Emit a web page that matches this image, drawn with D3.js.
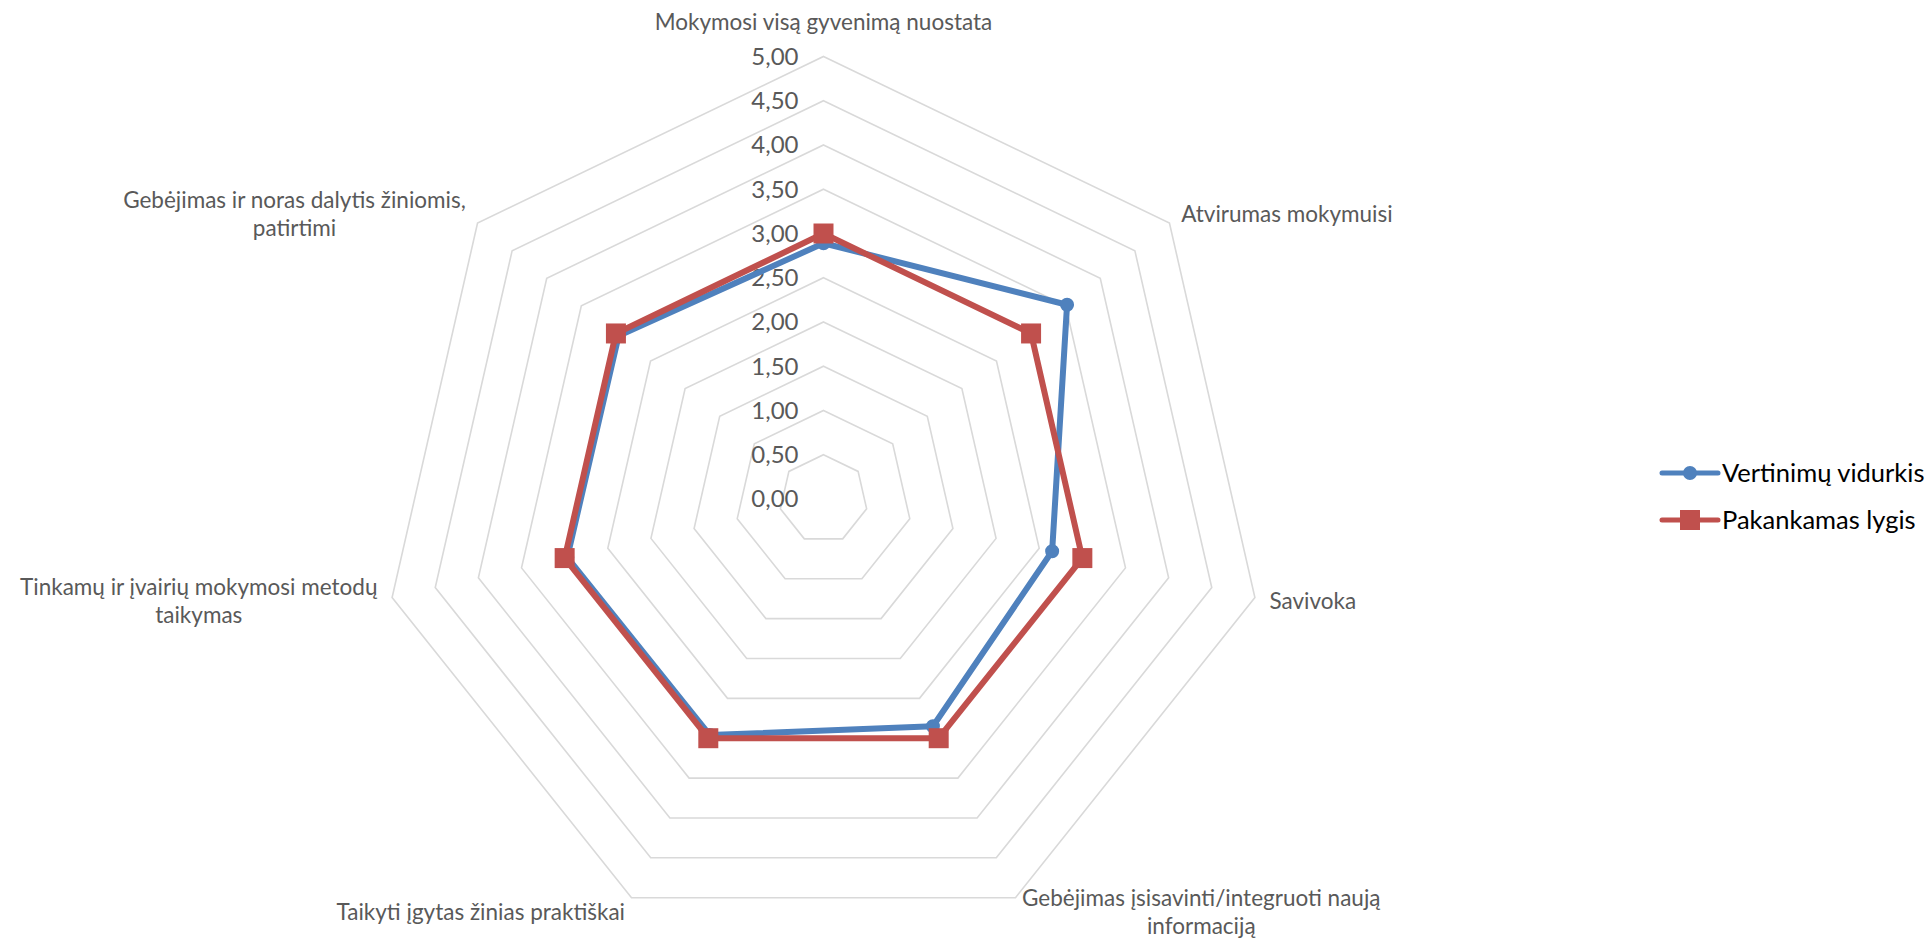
<!DOCTYPE html>
<html>
<head>
<meta charset="utf-8">
<script src="https://cdn.jsdelivr.net/npm/d3@7"></script>
<style>
  body { margin: 0; background: #fff; }
  text { font-family: Lato, "Open Sans", sans-serif; }
</style>
</head>
<body>
<div id="radar"></div>
<script>
// chart data
var categories = [
  ["Mokymosi visą gyvenimą nuostata"],
  ["Atvirumas mokymuisi"],
  ["Savivoka"],
  ["Gebėjimas įsisavinti/integruoti naują", "informaciją"],
  ["Taikyti įgytas žinias praktiškai"],
  ["Tinkamų ir įvairių mokymosi metodų", "taikymas"],
  ["Gebėjimas ir noras dalytis žiniomis,", "patirtimi"]
];
var vertinimuVidurkis = [2.89, 3.52, 2.65, 2.85, 2.96, 2.97, 2.96];
var pakankamasLygis = [3.00, 3.00, 3.00, 3.00, 3.00, 3.00, 3.00];
var tickValues = [0, 0.5, 1, 1.5, 2, 2.5, 3, 3.5, 4, 4.5, 5];
var seriesNames = ["Vertinimų vidurkis", "Pakankamas lygis"];

var W = 1931, H = 942;
var cx = 823.5, cy = 499, R = 442.5;
var svg, g, rScale;
var nAxes = categories.length;
var ltLocale = d3.formatLocale({decimal: ",", thousands: " ", grouping: [3], currency: ["", " €"]});
var fmt = ltLocale.format(".2f");

function angleOf(i) { return i * 2 * Math.PI / nAxes; }

function setup() {
    svg = d3.select("#radar").append("svg")
      .attr("width", W)
      .attr("height", H);
    g = svg.append("g").attr("transform", "translate(" + cx + "," + cy + ")");
    rScale = d3.scaleLinear().domain([0, 5]).range([0, R]);
}

// heptagon grid rings
function drawGrid() {
    var ring = d3.lineRadial()
      .angle(function(d, i) { return angleOf(i); })
      .radius(function(d) { return rScale(d); })
      .curve(d3.curveLinearClosed);
    g.append("g").selectAll("path")
      .data(tickValues.filter(function(v) { return v > 0; }))
      .enter().append("path")
        .attr("d", function(v) { return ring(d3.range(nAxes).map(function() { return v; })); })
        .style("fill", "none")
        .style("stroke", "#d9d9d9")
        .style("stroke-width", 1.6);
    // value labels on the top axis
    g.append("g").selectAll("text")
      .data(tickValues)
      .enter().append("text")
        .attr("x", -25)
        .attr("y", function(v) { return -rScale(v); })
        .attr("dy", "0.35em")
        .attr("text-anchor", "end")
        .style("font-size", "24px")
        .style("fill", "#595959")
        .text(function(v) { return fmt(v); });
}

function drawCategoryLabels() {
    var lh = 28;
    categories.forEach(function(lines, i) {
        var a = angleOf(i), s = Math.sin(a), c = Math.cos(a);
        var px = (R + 15) * s, py = -(R + 15) * c;
        var t = g.append("text")
          .style("font-size", "22.5px")
          .style("fill", "#595959")
          .attr("text-anchor", "middle");
        lines.forEach(function(l, k) {
            t.append("tspan").attr("x", 0).attr("dy", k === 0 ? 0 : lh).text(l);
        });
        var wMax = 0;
        t.selectAll("tspan").each(function() { wMax = Math.max(wMax, this.getComputedTextLength()); });
        var bx;
        if (Math.abs(s) < 0.1) bx = px;
        else if (s > 0) bx = px + wMax / 2;
        else bx = px - wMax / 2;
        var blockH = (lines.length - 1) * lh;
        var by = (Math.abs(s) < 0.1 && c > 0) ? py - lh / 2 - 6 - blockH / 2 : py;
        t.selectAll("tspan").attr("x", bx).attr("dominant-baseline", "central");
        t.select("tspan").attr("y", by - blockH / 2);
    });
}

function drawSeries(values, color, marker) {
    var pts = values.map(function(v, i) {
        return [rScale(v) * Math.sin(angleOf(i)), -rScale(v) * Math.cos(angleOf(i))];
    });
    var sg = g.append("g");
    sg.append("path")
      .attr("d", d3.line().curve(d3.curveLinearClosed)(pts))
      .style("fill", "none")
      .style("stroke", color)
      .style("stroke-width", 6)
      .style("stroke-linejoin", "round");
    sg.selectAll("path.m").data(pts)
      .enter().append("path")
        .classed("m", true)
        .attr("transform", function(d) { return "translate(" + d[0] + "," + d[1] + ")"; })
        .attr("d", marker)
        .style("fill", color);
}

function drawLegend() {
    var lg = svg.append("g").attr("transform", "translate(1662,473)");
    var items = lg.selectAll("g").data(seriesNames)
      .enter().append("g")
        .attr("transform", function(d, i) { return "translate(0," + i * 47 + ")"; });
    items.append("line")
      .attr("x1", 0).attr("x2", 56)
      .style("stroke", function(d, i) { return i === 0 ? "#4f81bd" : "#c0504d"; })
      .style("stroke-width", 5)
      .style("stroke-linecap", "round");
    items.append("path")
      .attr("transform", "translate(28,0)")
      .attr("d", function(d, i) { return i === 0 ? d3.symbol(d3.symbolCircle, 154)() : d3.symbol(d3.symbolSquare, 400)(); })
      .style("fill", function(d, i) { return i === 0 ? "#4f81bd" : "#c0504d"; });
    items.append("text")
      .attr("x", 60)
      .attr("dy", "0.35em")
      .style("font-size", "25.5px")
      .style("fill", "#000")
      .text(function(d) { return d; });
}

setup();
drawGrid();
drawCategoryLabels();
drawSeries(vertinimuVidurkis, "#4f81bd", d3.symbol(d3.symbolCircle, 154)());
drawSeries(pakankamasLygis, "#c0504d", d3.symbol(d3.symbolSquare, 400)());
drawLegend();
</script>
</body>
</html>
